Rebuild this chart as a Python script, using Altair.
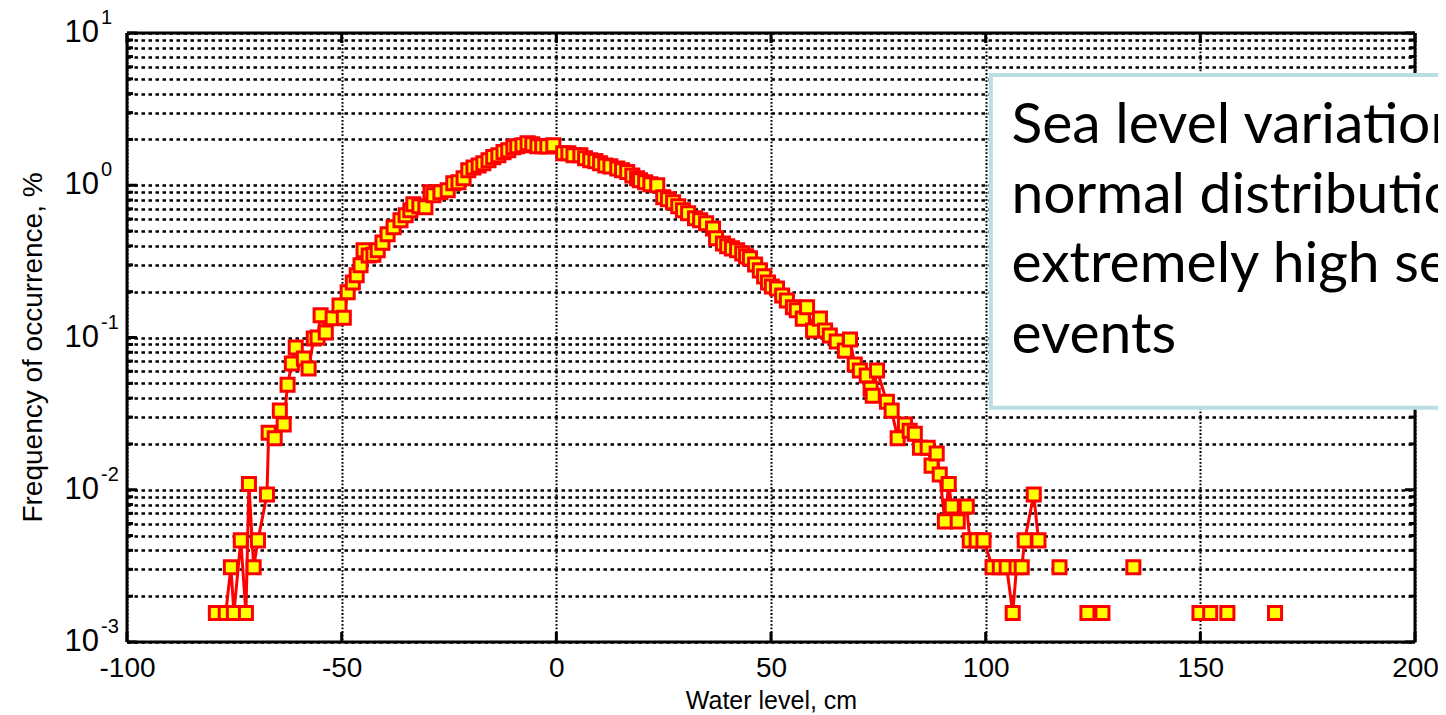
import altair as alt
import pandas as pd

# ---- data ----
water_level = [
    -79.3, -77.0, -75.8, -75.1, -73.5, -72.3, -71.6, -70.5, -69.5, -67.4,
    -67.0, -65.6, -64.4, -63.5, -62.6, -61.6, -60.7, -58.8, -57.7, -56.5,
    -55.6, -54.9, -53.7, -52.1, -50.5, -49.5, -48.6, -47.4, -46.5, -45.6,
    -44.9, -43.7, -42.6, -41.6, -40.5, -39.3, -37.9, -36.3, -35.1, -34.0,
    -33.3, -31.9, -30.5, -29.3, -28.6, -27.0, -25.3, -24.0, -22.8, -21.6,
    -20.5, -19.3, -18.1, -17.0, -15.8, -14.7, -13.5, -12.3, -11.2, -10.0,
    -9.1, -7.9, -6.7, -5.6, -4.4, -3.3, -2.1, -0.7, 1.6, 2.8,
    4.0, 5.6, 6.7, 7.9, 9.1, 10.2, 11.4, 12.6, 14.2, 15.3,
    16.5, 17.7, 18.8, 19.5, 20.7, 21.9, 23.5, 24.9, 26.0, 27.2,
    28.4, 29.5, 30.7, 32.3, 33.5, 34.9, 36.5, 37.2, 38.8, 39.8,
    40.9, 42.1, 43.3, 44.2, 45.1, 46.3, 47.4, 48.4, 49.3, 50.2,
    51.4, 52.6, 53.7, 55.1, 56.0, 57.4, 58.4, 59.8, 61.4, 62.6,
    63.7, 65.3, 67.2, 68.4, 69.5, 70.7, 72.3, 73.2, 73.7, 74.7,
    77.0, 78.1, 79.5, 81.2, 82.3, 83.5, 84.7, 86.5, 87.4, 88.6,
    89.3, 90.5, 91.4, 92.1, 93.5, 95.6, 96.3, 97.9, 99.5, 101.6,
    103.3, 104.9, 106.3, 107.2, 108.4, 109.1, 111.2, 112.3,
]
frequency = [
    0.00155, 0.00155, 0.0031, 0.00155, 0.00465, 0.00155, 0.0109, 0.0031, 0.00465, 0.0093,
    0.0237, 0.0218, 0.0331, 0.0268, 0.049, 0.0675, 0.0861, 0.0728, 0.0626, 0.0985,
    0.100, 0.140, 0.108, 0.134, 0.162, 0.135, 0.198, 0.230, 0.256, 0.298,
    0.374, 0.346, 0.350, 0.374, 0.420, 0.476, 0.530, 0.589, 0.635, 0.685,
    0.750, 0.727, 0.716, 0.900, 0.859, 0.900, 0.927, 1.03, 1.047, 1.11,
    1.255, 1.31, 1.35, 1.395, 1.46, 1.53, 1.575, 1.65, 1.70, 1.78,
    1.805, 1.83, 1.89, 1.86, 1.805, 1.805, 1.80, 1.83, 1.62, 1.62,
    1.575, 1.575, 1.505, 1.46, 1.44, 1.395, 1.35, 1.33, 1.29, 1.255,
    1.22, 1.16, 1.11, 1.08, 1.047, 1.015, 1.0, 0.834, 0.81, 0.773,
    0.727, 0.685, 0.655, 0.607, 0.589, 0.562, 0.52, 0.448, 0.415, 0.397,
    0.385, 0.374, 0.357, 0.341, 0.331, 0.302, 0.276, 0.252, 0.23, 0.216,
    0.21, 0.189, 0.175, 0.158, 0.151, 0.133, 0.158, 0.111, 0.133, 0.111,
    0.103, 0.094, 0.082, 0.097, 0.0664, 0.0607, 0.0562, 0.046, 0.0415, 0.0607,
    0.0378, 0.0331, 0.0218, 0.0268, 0.0244, 0.0233, 0.0189, 0.0189, 0.0144, 0.0173,
    0.0126, 0.0062, 0.0109, 0.00775, 0.0062, 0.00775, 0.00465, 0.00465, 0.00465, 0.0031,
    0.0031, 0.0031, 0.00155, 0.0031, 0.0031, 0.00465, 0.0093, 0.00465,
]
# isolated (unconnected) extreme events
tail_level = [117.2, 123.7, 127.2, 134.4, 149.8, 152.3, 156.3, 167.4]
tail_freq = [0.0031, 0.00155, 0.00155, 0.0031, 0.00155, 0.00155, 0.00155, 0.00155]

x_ticks = [-100, -50, 0, 50, 100, 150, 200]
y_decades = [0.001, 0.01, 0.1, 1, 10]
y_exponents = ["-3", "-2", "-1", "0", "1"]
y_minor_mult = [2, 3, 4, 5, 6, 7, 8, 9]

note_lines = ["Sea level variation", "normal distribution", "extremely high sea", "events"]
note_y = [1.90, 0.654, 0.230, 0.0797]
note_x = 106.0
box_x = [101.2, 215.0]
box_y = [5.29, 0.0346]

x_domain = [-100, 200]
y_domain = [0.001, 10]

# ---- tables ----
main_df = pd.DataFrame({"level": water_level, "freq": frequency})
all_df = pd.DataFrame({"level": water_level + tail_level, "freq": frequency + tail_freq})
minor_vals = [m * d for d in y_decades[:-1] for m in y_minor_mult]
grid_vals = sorted(y_decades + minor_vals)
dec_df = pd.DataFrame({"v": y_decades, "e": y_exponents})
minor_df = pd.DataFrame({"v": minor_vals})
xt_df = pd.DataFrame({"x": x_ticks})
frame_df = pd.DataFrame({
    "x": [x_domain[0], x_domain[0], x_domain[0], x_domain[1]],
    "x2": [x_domain[1], x_domain[1], x_domain[0], x_domain[1]],
    "y": [y_domain[1], y_domain[0], y_domain[0], y_domain[0]],
    "y2": [y_domain[1], y_domain[0], y_domain[1], y_domain[1]],
})
box_df = pd.DataFrame({"x": [box_x[0]], "x2": [box_x[1]], "y": [box_y[0]], "y2": [box_y[1]]})
note_df = pd.DataFrame({"t": note_lines, "y": note_y, "x": [note_x] * len(note_lines)})

W, H = 1288, 609
FONT = "Liberation Sans"
xs = alt.Scale(domain=x_domain, nice=False, zero=False)
ys = alt.Scale(type="log", domain=y_domain, nice=False)

x_axis = alt.Axis(values=x_ticks, grid=True, gridColor="black", gridDash=[1.8, 1.8], gridWidth=2,
                  ticks=False, domain=False, labelFont=FONT, labelFontSize=28, labelColor="black",
                  labelPadding=12, labelExpr="'' + datum.value", labelFlush=False, labelOverlap=False,
                  title="Water level, cm", titleFont=FONT, titleFontSize=25, titleFontWeight="normal",
                  titleColor="black", titleY=58, titleBaseline="middle")
y_axis = alt.Axis(values=grid_vals, grid=True, gridColor="black", gridDash=[3.5, 3.5], gridWidth=2.5,
                  ticks=False, domain=False, labels=False,
                  title="Frequency of occurrence, %", titleFont=FONT, titleFontSize=28,
                  titleFontWeight="normal", titleColor="black", titleX=-94, titleY=314,
                  titleAngle=270, titleAlign="center", titleBaseline="middle")


def X(field):
    return alt.X(field, scale=xs, axis=x_axis)


def Y(field):
    return alt.Y(field, scale=ys, axis=y_axis)


line = alt.Chart(main_df).mark_line(color="#ff0000", strokeWidth=3).encode(
    x=X("level:Q"), y=Y("freq:Q"))
points = alt.Chart(all_df).mark_point(shape="square", filled=True, color="#ffff00", opacity=1,
                                      stroke="#ff0000", strokeWidth=3, size=170).encode(
    x=X("level:Q"), y=Y("freq:Q"))
frame = alt.Chart(frame_df).mark_rule(color="black", strokeWidth=3).encode(
    x=X("x:Q"), x2="x2:Q", y=Y("y:Q"), y2="y2:Q")
xt_bottom = alt.Chart(xt_df).mark_rule(color="black", strokeWidth=3).encode(
    x=X("x:Q"), y=alt.value(H), y2=alt.value(H - 10))
xt_top = alt.Chart(xt_df).mark_rule(color="black", strokeWidth=3).encode(
    x=X("x:Q"), y=alt.value(0), y2=alt.value(10))
yt_major_l = alt.Chart(dec_df).mark_rule(color="black", strokeWidth=3).encode(
    y=Y("v:Q"), x=alt.value(0), x2=alt.value(10))
yt_major_r = alt.Chart(dec_df).mark_rule(color="black", strokeWidth=3).encode(
    y=Y("v:Q"), x=alt.value(W), x2=alt.value(W - 10))
yt_minor_l = alt.Chart(minor_df).mark_rule(color="black", strokeWidth=3).encode(
    y=Y("v:Q"), x=alt.value(0), x2=alt.value(6))
yt_minor_r = alt.Chart(minor_df).mark_rule(color="black", strokeWidth=3).encode(
    y=Y("v:Q"), x=alt.value(W), x2=alt.value(W - 6))

ylab = alt.Chart(dec_df).mark_text(font=FONT, fontSize=31, align="right", baseline="middle",
                                   color="black").encode(
    y=Y("v:Q"), x=alt.value(-28), text=alt.value("10"))
yexp = alt.Chart(dec_df).mark_text(font=FONT, fontSize=20, align="left", baseline="middle",
                                   color="black", dy=-15).encode(
    y=Y("v:Q"), x=alt.value(-26), text="e:N")

box = alt.Chart(box_df).mark_rect(fill="white", stroke="#b9dfe3", strokeWidth=4).encode(
    x=X("x:Q"), x2="x2:Q", y=Y("y:Q"), y2="y2:Q")
note = alt.Chart(note_df).mark_text(font="Lato", fontSize=57, align="left", baseline="alphabetic",
                                    color="black").encode(
    x=X("x:Q"), y=Y("y:Q"), text="t:N")

chart = alt.layer(
    line, points, frame, xt_bottom, xt_top, yt_major_l, yt_major_r, yt_minor_l, yt_minor_r,
    box, note, ylab, yexp,
).properties(
    width=W, height=H,
    autosize=alt.AutoSizeParams(type="none"),
    padding={"left": 119, "top": 25, "right": 23, "bottom": 73},
    background="white",
).configure_view(stroke="transparent")

chart.save("out.html", embed_options={"renderer": "svg", "actions": False})
